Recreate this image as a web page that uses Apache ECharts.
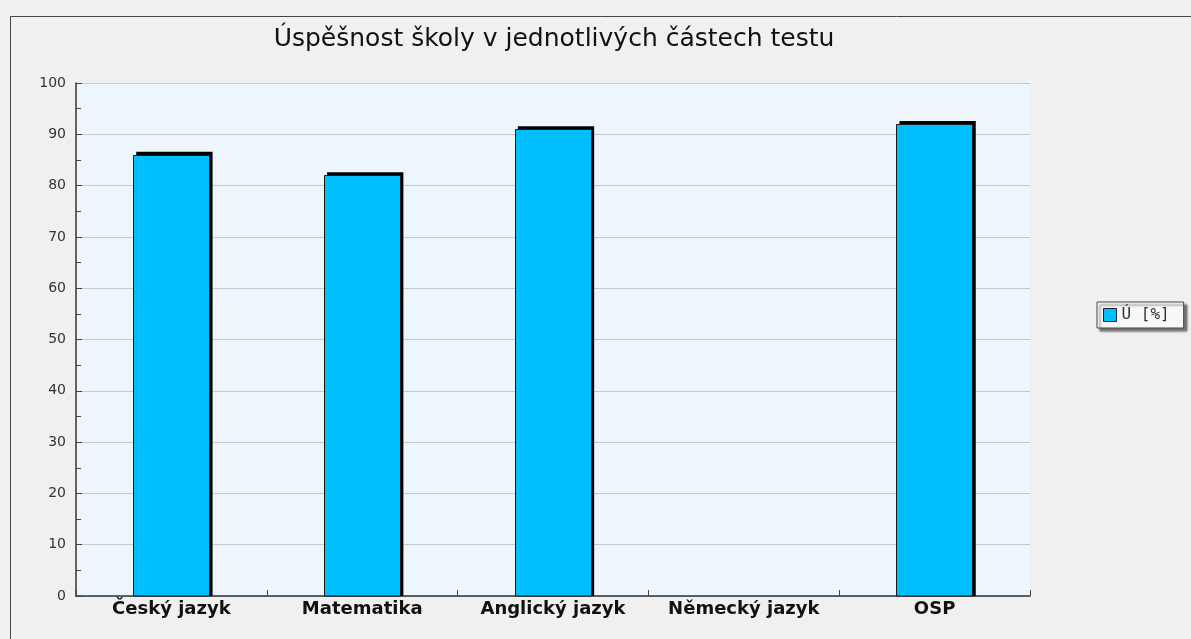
<!DOCTYPE html>
<html>
<head>
<meta charset="utf-8">
<script src="https://cdn.jsdelivr.net/npm/echarts@6/dist/echarts.min.js"></script>
<style>
  html, body { margin: 0; padding: 0; background: #f0f0f0; }
  #chart { width: 1191px; height: 639px; }
</style>
</head>
<body>
<div id="chart"></div>
<script>
const categories = ['Český jazyk', 'Matematika', 'Anglický jazyk', 'Německý jazyk', 'OSP'];
const values = [86, 82, 91, null, 92];
const seriesName = 'Ú [%]';

const chart = echarts.init(document.getElementById('chart'));

// bar with a black "3D" edge up and to the right
function renderBar(params, api) {
  const v = api.value(1);
  if (v == null || isNaN(v)) return;
  const top = api.coord([api.value(0), v]);
  const base = api.coord([api.value(0), 0]);
  const w = api.size([1, 0])[0] * 0.4;
  const x = top[0] - w / 2;
  const d = 3;
  return {
    type: 'group',
    children: [
      {
        type: 'rect',
        shape: { x: x + d, y: top[1] - d, width: w, height: base[1] - top[1] + d },
        style: { fill: '#000' }
      },
      {
        type: 'rect',
        shape: { x: Math.round(x) + 0.5, y: Math.round(top[1]) + 0.5, width: Math.round(w), height: base[1] - Math.round(top[1]) - 0.5 },
        style: { fill: '#00bfff', stroke: '#1a1a1a', lineWidth: 1 }
      }
    ]
  };
}

chart.setOption({
  backgroundColor: '#f0f0f0',
  animation: false,
  title: {
    text: 'Úspěšnost školy v jednotlivých částech testu',
    left: 549,
    textAlign: 'center',
    top: 22,
    textStyle: { fontFamily: 'DejaVu Sans', fontSize: 25, fontWeight: 'normal', color: '#111' }
  },
  graphic: [{
    type: 'rect',
    shape: { x: 10.5, y: 16.5, width: 1200, height: 700 },
    style: { fill: 'none', stroke: '#444', lineWidth: 1 },
    silent: true
  }],
  legend: {
    left: 1097,
    top: 302,
    orient: 'vertical',
    padding: [5, 14, 5, 6],
    itemWidth: 13,
    itemHeight: 13,
    itemGap: 6,
    borderColor: '#444',
    borderWidth: 1,
    backgroundColor: '#f7f7f7',
    shadowColor: 'rgba(0,0,0,0.5)',
    shadowOffsetX: 3,
    shadowOffsetY: 3,
    shadowBlur: 2,
    textStyle: { fontFamily: 'DejaVu Sans Mono', fontSize: 16, color: '#333' },
    data: [{ name: seriesName, icon: 'rect', itemStyle: { color: '#00bfff', borderColor: '#222', borderWidth: 1 } }]
  },
  grid: { left: 76, right: 161, top: 83, bottom: 43, show: true, backgroundColor: '#eef6fd', borderWidth: 0 },
  xAxis: {
    type: 'category',
    data: categories,
    axisLine: { lineStyle: { color: '#333', width: 1.5 } },
    axisTick: { show: true, interval: 0, inside: true, length: 6, lineStyle: { color: '#444', width: 1 } },
    axisLabel: { interval: 0, fontFamily: 'DejaVu Sans', fontWeight: 'bold', fontSize: 18, color: '#111', margin: 4 },
    splitLine: { show: false }
  },
  yAxis: {
    type: 'value',
    min: 0,
    max: 100,
    interval: 10,
    axisLine: { show: true, lineStyle: { color: '#333', width: 1.5 } },
    axisTick: { show: true, inside: true, length: 6, lineStyle: { color: '#444' } },
    minorTick: { show: true, splitNumber: 2, length: 5, lineStyle: { color: '#444' } },
    axisLabel: { fontFamily: 'DejaVu Sans', fontSize: 14, color: '#333', margin: 10 },
    splitLine: { lineStyle: { color: '#c8c8c8', width: 1 } }
  },
  series: [{
    name: seriesName,
    type: 'custom',
    renderItem: renderBar,
    itemStyle: { color: '#00bfff' },
    encode: { x: 0, y: 1 },
    data: values.map((v, i) => [i, v])
  }]
});
</script>
</body>
</html>
